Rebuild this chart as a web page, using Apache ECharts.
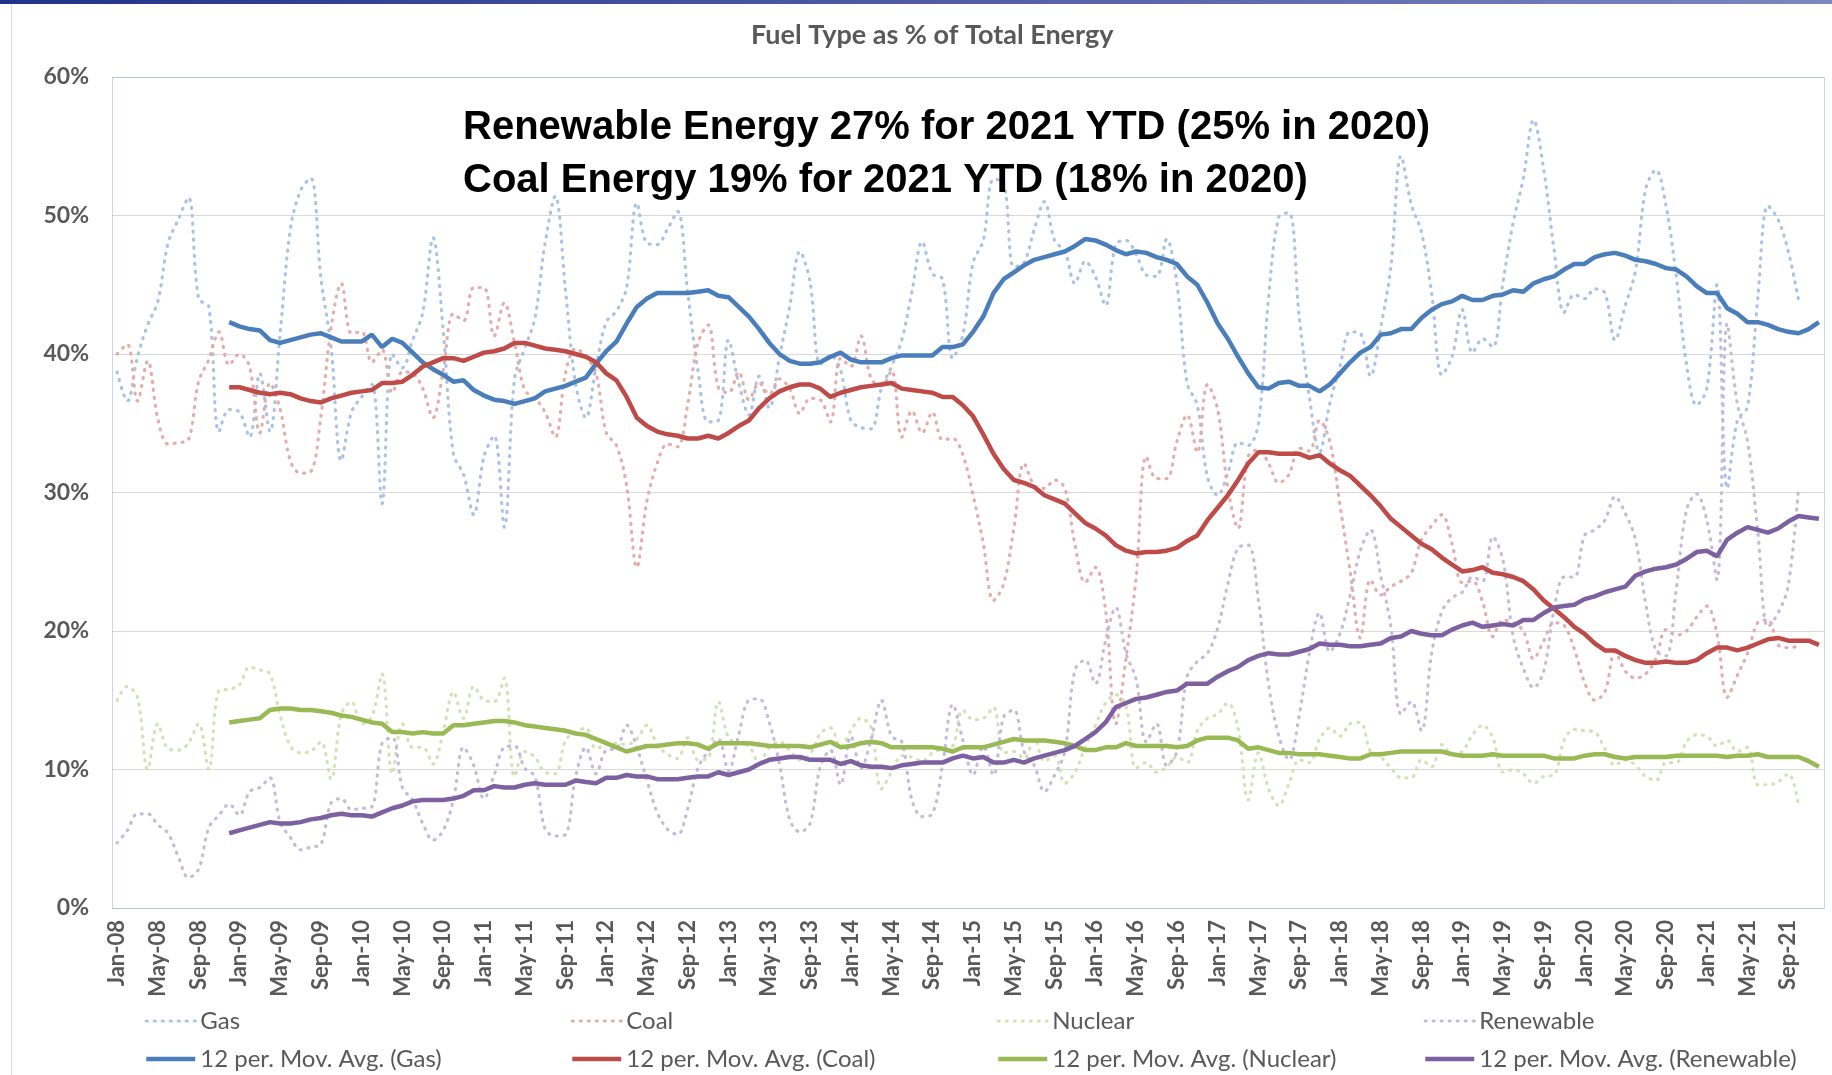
<!DOCTYPE html>
<html>
<head>
<meta charset="utf-8">
<title>Fuel Type as % of Total Energy</title>
<script src="https://cdn.jsdelivr.net/npm/echarts@6.0.0/dist/echarts.min.js"></script>
<style>
  html, body { margin: 0; padding: 0; background: #fff; }
  #chart { width: 1832px; height: 1075px; }
</style>
</head>
<body>
<div id="chart"></div>
<script>
// category labels: Jan-08 ... Dec-21
const monthNames = ['Jan', 'Feb', 'Mar', 'Apr', 'May', 'Jun', 'Jul', 'Aug', 'Sep', 'Oct', 'Nov', 'Dec'];
const yearNames = ['08', '09', '10', '11', '12', '13', '14', '15', '16', '17', '18', '19', '20', '21'];
const categories = [];
yearNames.forEach(y => monthNames.forEach(m => categories.push(m + '-' + y)));

// monthly share of total energy, % (one row per year)
const gas = [
  38.7, 36.6, 39.8, 42.1, 43.8, 48.0, 49.7, 51.3, 44.0, 43.4, 34.4, 36.0,
  35.8, 34.0, 38.6, 34.4, 41.5, 49.0, 51.8, 52.7, 45.5, 40.5, 32.3, 35.8,
  36.9, 37.8, 29.2, 40.0, 39.0, 41.0, 43.0, 48.4, 41.7, 32.8, 31.3, 28.4,
  32.6, 34.1, 27.5, 38.2, 40.4, 42.6, 48.0, 51.4, 44.6, 37.8, 35.4, 39.1,
  42.3, 43.1, 44.8, 50.9, 48.0, 47.9, 49.0, 50.3, 44.4, 38.8, 35.1, 35.2,
  41.0, 37.9, 35.6, 38.4, 36.1, 39.8, 43.4, 47.4, 45.2, 39.3, 39.9, 38.8,
  35.2, 34.7, 34.6, 37.5, 39.1, 41.0, 44.5, 48.1, 45.8, 45.4, 39.7, 41.4,
  46.6, 48.2, 52.6, 52.4, 46.3, 46.6, 49.0, 51.0, 48.2, 47.4, 45.1, 46.7,
  45.6, 43.5, 47.9, 48.2, 47.2, 45.7, 45.6, 48.3, 45.1, 37.9, 36.3, 31.1,
  29.8, 31.4, 33.6, 33.4, 35.0, 44.1, 49.9, 50.2, 42.7, 36.9, 32.9, 36.4,
  39.1, 41.6, 41.5, 38.4, 41.9, 46.3, 54.3, 50.8, 48.8, 44.4, 38.5, 39.8,
  43.2, 40.1, 41.1, 40.5, 45.2, 49.5, 52.7, 56.9, 53.3, 47.6, 43.0, 44.3,
  44.0, 44.7, 44.4, 41.0, 43.5, 46.0, 51.9, 53.3, 50.7, 45.6, 39.3, 36.3,
  37.5, 45.0, 30.3, 35.2, 36.2, 44.0, 50.7, 49.7, 47.4, 43.9, null, null
];
const coal = [
  40.0, 40.7, 36.6, 39.5, 35.3, 33.5, 33.6, 33.8, 38.0, 39.6, 41.6, 39.2,
  40.0, 39.1, 34.3, 37.9, 36.0, 32.3, 31.4, 31.5, 35.5, 41.9, 45.1, 41.5,
  41.6, 39.4, 40.3, 37.2, 38.7, 38.6, 37.5, 35.4, 38.8, 42.9, 42.4, 44.8,
  44.8, 41.3, 43.7, 40.8, 37.4, 36.8, 35.8, 34.0, 38.6, 40.4, 39.8, 38.6,
  34.3, 33.4, 30.5, 24.6, 29.4, 32.1, 33.5, 33.3, 36.4, 40.8, 42.1, 37.6,
  37.2, 38.7, 36.7, 37.9, 37.1, 38.2, 37.5, 35.7, 36.8, 36.7, 35.1, 39.7,
  39.1, 41.3, 38.2, 37.7, 38.8, 34.0, 35.9, 34.3, 35.8, 33.8, 33.9, 32.7,
  29.8, 26.3, 22.2, 23.4, 27.4, 32.1, 30.5, 30.3, 30.9, 30.3, 26.2, 23.5,
  24.6, 21.5, 13.3, 18.0, 23.9, 32.6, 31.0, 31.0, 33.7, 35.6, 32.9, 37.8,
  36.0, 30.3, 27.4, 32.6, 33.1, 32.1, 30.7, 31.3, 33.2, 33.0, 35.2, 33.7,
  29.1, 24.3, 19.5, 23.7, 22.6, 23.2, 23.6, 24.2, 26.6, 27.6, 28.4, 26.3,
  23.5, 23.6, 22.1, 19.6, 20.8, 20.6, 20.0, 18.0, 19.3, 20.6, 20.4, 18.7,
  16.3, 15.0, 15.6, 18.5, 17.1, 16.6, 16.9, 18.0, 20.1, 19.7, 20.0, 21.0,
  21.8, 19.8, 15.2, 16.8, 18.4, 20.6, 20.8, 19.0, 18.8, 18.9, null, null
];
const nuclear = [
  15.0, 16.0, 15.2, 10.0, 13.3, 11.5, 11.4, 11.9, 13.3, 10.0, 15.7, 15.8,
  16.1, 17.4, 17.2, 16.9, 13.9, 11.7, 11.2, 11.3, 12.0, 9.3, 14.0, 14.9,
  13.3, 13.8, 16.9, 9.7, 13.3, 11.6, 11.6, 10.4, 12.7, 15.6, 13.7, 16.0,
  15.0, 14.9, 16.6, 9.5, 11.3, 10.9, 9.8, 9.7, 12.1, 12.7, 13.0, 11.5,
  11.8, 11.9, 11.8, 12.2, 13.2, 11.8, 11.1, 10.8, 12.3, 10.7, 10.8, 14.9,
  12.3, 11.9, 11.7, 10.5, 11.6, 12.0, 11.4, 10.7, 11.1, 12.6, 13.0, 11.6,
  12.8, 13.7, 13.0, 8.6, 9.8, 11.0, 10.9, 10.6, 11.2, 11.5, 11.7, 14.3,
  13.6, 13.7, 14.5, 11.2, 11.3, 10.8, 12.2, 10.6, 11.0, 9.0, 9.8, 11.6,
  13.2, 14.8, 15.4, 14.6, 10.1, 10.5, 9.8, 10.2, 10.9, 10.5, 12.8, 13.7,
  14.0, 14.8, 13.0, 7.8, 11.2, 8.6, 7.4, 9.0, 10.7, 10.5, 12.2, 13.0,
  12.4, 13.3, 13.4, 11.3, 10.9, 10.1, 9.4, 9.4, 10.7, 10.2, 11.8, 11.1,
  11.3, 12.5, 13.2, 12.3, 9.8, 10.0, 9.7, 9.0, 9.5, 9.6, 12.1, 12.9,
  12.8, 12.7, 11.5, 10.3, 10.7, 10.3, 9.5, 9.2, 10.5, 10.5, 12.0, 12.5,
  12.4, 11.7, 12.1, 11.3, 11.6, 8.9, 8.9, 9.1, 9.7, 7.4, null, null
];
const renewable = [
  4.7, 5.6, 6.8, 6.8, 6.0, 5.4, 3.7, 2.2, 2.8, 5.8, 6.7, 7.5,
  6.7, 8.4, 8.7, 9.4, 6.2, 5.1, 4.2, 4.4, 4.6, 7.6, 7.9, 7.1,
  7.2, 7.3, 11.9, 12.3, 8.7, 7.8, 6.1, 4.9, 5.6, 7.8, 11.6, 10.3,
  7.9, 9.6, 11.6, 11.7, 10.1, 9.5, 5.7, 5.2, 5.3, 9.5, 11.6, 9.7,
  11.4, 11.5, 13.2, 11.6, 9.2, 6.9, 5.7, 5.3, 7.2, 10.1, 11.3, 12.2,
  9.9, 12.5, 15.0, 15.1, 13.4, 10.4, 6.4, 5.5, 6.1, 10.2, 11.4, 8.9,
  12.4, 10.1, 12.2, 15.0, 12.4, 12.0, 7.8, 6.6, 6.8, 10.3, 14.7, 12.1,
  9.6, 11.7, 9.6, 13.8, 14.3, 11.3, 10.3, 8.4, 9.6, 11.3, 17.2, 17.9,
  16.2, 19.3, 21.7, 18.4, 16.5, 12.0, 13.3, 10.3, 11.3, 16.7, 17.8, 18.4,
  20.2, 23.4, 26.0, 26.2, 22.2, 16.1, 12.4, 10.7, 13.9, 18.4, 21.3, 18.5,
  19.8, 22.6, 25.8, 27.3, 24.0, 20.3, 14.0, 14.9, 12.8, 18.4, 21.4, 22.4,
  22.8, 23.9, 23.6, 26.8, 25.1, 19.6, 17.3, 15.9, 17.1, 21.5, 23.9, 23.9,
  26.9, 27.3, 28.0, 29.7, 28.5, 26.6, 22.0, 18.6, 18.2, 23.0, 28.7, 29.9,
  28.0, 23.7, 42.2, 36.4, 33.7, 27.2, 20.3, 21.3, 23.3, 30.4, null, null
];

// 12-period moving averages as drawn (first value at Dec-08)
const gasAvg = [
  null, null, null, null, null, null, null, null, null, null, null, 42.3,
  42.0, 41.8, 41.7, 41.0, 40.8, 41.0, 41.2, 41.4, 41.5, 41.2, 40.9, 40.9,
  40.9, 41.4, 40.5, 41.1, 40.8, 40.1, 39.4, 38.9, 38.5, 38.0, 38.1, 37.4,
  37.0, 36.7, 36.6, 36.4, 36.6, 36.8, 37.3, 37.5, 37.7, 38.0, 38.3, 39.3,
  40.2, 40.9, 42.2, 43.4, 44.0, 44.4, 44.4, 44.4, 44.4, 44.5, 44.6, 44.2,
  44.1, 43.4, 42.7, 41.8, 40.8, 40.0, 39.5, 39.3, 39.3, 39.4, 39.8, 40.1,
  39.6, 39.4, 39.4, 39.4, 39.7, 39.9, 39.9, 39.9, 39.9, 40.5, 40.5, 40.7,
  41.6, 42.7, 44.4, 45.4, 45.9, 46.4, 46.8, 47.0, 47.2, 47.4, 47.8, 48.3,
  48.2, 47.9, 47.5, 47.2, 47.4, 47.3, 47.0, 46.8, 46.5, 45.6, 45.0, 43.7,
  42.2, 41.1, 39.8, 38.6, 37.6, 37.5, 37.9, 38.0, 37.7, 37.7, 37.3, 37.8,
  38.6, 39.4, 40.1, 40.5, 41.4, 41.5, 41.8, 41.8, 42.6, 43.2, 43.6, 43.8,
  44.2, 43.9, 43.9, 44.2, 44.3, 44.6, 44.5, 45.1, 45.4, 45.6, 46.1, 46.5,
  46.5, 47.0, 47.2, 47.3, 47.1, 46.8, 46.7, 46.5, 46.2, 46.1, 45.6, 44.9,
  44.4, 44.4, 43.3, 42.9, 42.3, 42.3, 42.1, 41.8, 41.6, 41.5, 41.8, 42.3
];
const coalAvg = [
  null, null, null, null, null, null, null, null, null, null, null, 37.6,
  37.6, 37.4, 37.2, 37.1, 37.2, 37.1, 36.8, 36.6, 36.5, 36.8, 37.0, 37.2,
  37.3, 37.4, 37.9, 37.9, 38.0, 38.5, 39.1, 39.4, 39.7, 39.7, 39.5, 39.8,
  40.1, 40.2, 40.4, 40.8, 40.8, 40.6, 40.4, 40.3, 40.2, 40.0, 39.8, 39.4,
  38.6, 38.1, 36.9, 35.4, 34.8, 34.4, 34.2, 34.1, 33.9, 33.9, 34.1, 33.9,
  34.3, 34.8, 35.2, 36.1, 36.8, 37.3, 37.6, 37.8, 37.8, 37.5, 36.9, 37.2,
  37.4, 37.6, 37.7, 37.8, 37.9, 37.5, 37.4, 37.3, 37.2, 36.9, 36.9, 36.3,
  35.5, 34.2, 32.8, 31.7, 30.9, 30.7, 30.4, 29.8, 29.5, 29.2, 28.5, 27.8,
  27.4, 26.9, 26.2, 25.8, 25.6, 25.7, 25.7, 25.8, 26.0, 26.5, 26.9, 28.0,
  28.9, 29.8, 30.9, 32.1, 32.9, 32.9, 32.8, 32.8, 32.8, 32.5, 32.7, 32.1,
  31.6, 31.2, 30.5, 29.8, 29.0, 28.1, 27.5, 26.9, 26.3, 25.9, 25.3, 24.8,
  24.3, 24.4, 24.6, 24.2, 24.1, 23.9, 23.6, 23.0, 22.2, 21.6, 21.0, 20.3,
  19.8, 19.1, 18.6, 18.6, 18.2, 17.9, 17.7, 17.7, 17.8, 17.7, 17.7, 17.9,
  18.4, 18.8, 18.8, 18.6, 18.8, 19.1, 19.4, 19.5, 19.3, 19.3, 19.3, 19.0
];
const nuclearAvg = [
  null, null, null, null, null, null, null, null, null, null, null, 13.4,
  13.5, 13.6, 13.7, 14.3, 14.4, 14.4, 14.3, 14.3, 14.2, 14.1, 13.9, 13.8,
  13.6, 13.4, 13.3, 12.7, 12.7, 12.6, 12.7, 12.6, 12.6, 13.2, 13.2, 13.3,
  13.4, 13.5, 13.5, 13.4, 13.2, 13.1, 13.0, 12.9, 12.8, 12.6, 12.5, 12.2,
  11.9, 11.6, 11.3, 11.5, 11.7, 11.7, 11.8, 11.9, 11.9, 11.8, 11.5, 11.9,
  11.9, 11.9, 11.9, 11.8, 11.7, 11.7, 11.7, 11.7, 11.6, 11.8, 12.0, 11.6,
  11.7, 11.9, 12.0, 11.9, 11.6, 11.6, 11.6, 11.6, 11.6, 11.5, 11.3, 11.6,
  11.6, 11.6, 11.8, 12.0, 12.2, 12.1, 12.1, 12.1, 12.0, 11.9, 11.7, 11.4,
  11.4, 11.6, 11.6, 11.9, 11.7, 11.7, 11.7, 11.7, 11.6, 11.7, 12.1, 12.3,
  12.3, 12.3, 12.1, 11.5, 11.6, 11.4, 11.2, 11.2, 11.1, 11.1, 11.1, 11.0,
  10.9, 10.8, 10.8, 11.1, 11.1, 11.2, 11.3, 11.3, 11.3, 11.3, 11.3, 11.1,
  11.0, 11.0, 11.0, 11.1, 11.0, 11.0, 11.0, 11.0, 11.0, 10.8, 10.8, 10.8,
  11.0, 11.1, 11.1, 10.9, 10.8, 10.9, 10.9, 10.9, 10.9, 11.0, 11.0, 11.0,
  11.0, 11.0, 10.9, 11.0, 11.0, 11.1, 10.9, 10.9, 10.9, 10.9, 10.6, 10.2
];
const renewableAvg = [
  null, null, null, null, null, null, null, null, null, null, null, 5.4,
  5.6, 5.8, 6.0, 6.2, 6.1, 6.1, 6.2, 6.4, 6.5, 6.7, 6.8, 6.7,
  6.7, 6.6, 6.9, 7.2, 7.4, 7.7, 7.8, 7.8, 7.8, 7.9, 8.1, 8.5,
  8.5, 8.8, 8.7, 8.7, 8.9, 9.0, 8.9, 8.9, 8.9, 9.2, 9.1, 9.0,
  9.4, 9.4, 9.6, 9.5, 9.5, 9.3, 9.3, 9.3, 9.4, 9.5, 9.5, 9.8,
  9.6, 9.8, 10.0, 10.4, 10.7, 10.8, 10.9, 10.9, 10.7, 10.7, 10.7, 10.4,
  10.6, 10.3, 10.2, 10.2, 10.1, 10.3, 10.4, 10.5, 10.5, 10.5, 10.8, 11.0,
  10.8, 10.9, 10.5, 10.5, 10.7, 10.5, 10.8, 11.0, 11.2, 11.4, 11.7, 12.2,
  12.7, 13.4, 14.5, 14.8, 15.1, 15.2, 15.4, 15.6, 15.7, 16.2, 16.2, 16.2,
  16.7, 17.1, 17.4, 17.9, 18.2, 18.4, 18.3, 18.3, 18.5, 18.7, 19.1, 19.0,
  19.0, 18.9, 18.9, 19.0, 19.1, 19.5, 19.6, 20.0, 19.8, 19.7, 19.7, 20.1,
  20.4, 20.6, 20.3, 20.4, 20.5, 20.4, 20.8, 20.8, 21.3, 21.7, 21.8, 21.9,
  22.3, 22.5, 22.8, 23.0, 23.2, 24.0, 24.3, 24.5, 24.6, 24.8, 25.2, 25.7,
  25.8, 25.4, 26.6, 27.1, 27.5, 27.3, 27.1, 27.4, 27.9, 28.3, 28.2, 28.1
];

const yTicks = [0, 10, 20, 30, 40, 50, 60];

const grey = '#595959';
const plot = { left: 112, top: 77, width: 1712, height: 831 };

function dotted(name, data, color) {
  return {
    name: name, type: 'line', data: data, symbol: 'none', smooth: 0.35, z: 2,
    lineStyle: { color: color, width: 3.2, type: [1, 7], cap: 'round' },
    itemStyle: { color: color }
  };
}
function movAvg(name, data, color) {
  return {
    name: name, type: 'line', data: data, symbol: 'none', z: 3,
    lineStyle: { color: color, width: 4.5 },
    itemStyle: { color: color }
  };
}

const names = ['Gas', 'Coal', 'Nuclear', 'Renewable'];
const avgNames = names.map(n => '12 per. Mov. Avg. (' + n + ')');
const legendLeft = [144, 570, 996, 1423];

const chart = echarts.init(document.getElementById('chart'));
chart.setOption({
  animation: false,
  backgroundColor: '#fff',
  title: [
    {
      text: 'Fuel Type as % of Total Energy',
      left: 751, top: 22, padding: 0,
      textStyle: { color: grey, fontSize: 27, fontWeight: 'bold', fontFamily: 'Lato' }
    },
    {
      text: 'Renewable Energy 27% for 2021 YTD (25% in 2020)\nCoal Energy 19% for 2021 YTD (18% in 2020)',
      left: 463, top: 101, padding: 0,
      textStyle: { color: '#000', fontSize: 40, lineHeight: 53, fontWeight: 'bold', fontFamily: 'Liberation Sans' }
    }
  ],
  legend: names.map((n, k) => ({
    orient: 'vertical', left: legendLeft[k], top: 1009, padding: 0,
    itemGap: 14, itemWidth: 49, itemHeight: 14, selectedMode: false,
    itemStyle: { opacity: 0 },
    data: [
      { name: n, lineStyle: { width: 3.2 } },
      { name: avgNames[k], lineStyle: { width: 4.5 } }
    ],
    textStyle: { color: grey, fontSize: 24, fontFamily: 'Lato' }
  })),
  grid: { left: plot.left, top: plot.top, right: 1832 - plot.left - plot.width, bottom: 1075 - plot.top - plot.height, containLabel: false },
  xAxis: {
    type: 'category', data: categories, boundaryGap: true,
    axisLine: { show: false }, axisTick: { show: false }, splitLine: { show: false },
    axisLabel: { interval: 3, rotate: 90, margin: 12, color: grey, fontSize: 22, fontWeight: 'bold', fontFamily: 'Lato' }
  },
  yAxis: {
    type: 'value', min: yTicks[0], max: yTicks[yTicks.length - 1], interval: 10,
    axisLine: { show: false }, axisTick: { show: false },
    splitLine: { lineStyle: { color: '#d9d9d9', width: 1 } },
    axisLabel: { formatter: '{value}%', margin: 23, color: grey, fontSize: 23, fontWeight: 'bold', fontFamily: 'Lato' }
  },
  graphic: [
    {
      type: 'rect', silent: true, z: 100,
      shape: { x: 0, y: 0, width: 1832, height: 4 },
      style: { fill: new echarts.graphic.LinearGradient(0, 0, 1, 0, [
        { offset: 0, color: '#22328a' }, { offset: 1, color: '#7c86c0' }]) }
    },
    {
      type: 'line', silent: true, z: 100,
      shape: { x1: 11.5, y1: 4, x2: 11.5, y2: 1075 },
      style: { stroke: '#d9d9d9', lineWidth: 1 }
    },
    {
      type: 'rect', silent: true, z: 100,
      shape: { x: plot.left + 0.5, y: plot.top + 0.5, width: plot.width, height: plot.height },
      style: { fill: null, stroke: '#8eaadb', lineWidth: 1, lineDash: [1, 1] }
    }
  ],
  series: [
    dotted('Gas', gas, '#a9c2e6'),
    dotted('Coal', coal, '#e4adab'),
    dotted('Nuclear', nuclear, '#d2e2b4'),
    dotted('Renewable', renewable, '#c6badb'),
    movAvg(avgNames[0], gasAvg, '#4a7ebb'),
    movAvg(avgNames[1], coalAvg, '#be4b48'),
    movAvg(avgNames[2], nuclearAvg, '#98b954'),
    movAvg(avgNames[3], renewableAvg, '#7d60a0')
  ]
});
</script>
</body>
</html>
